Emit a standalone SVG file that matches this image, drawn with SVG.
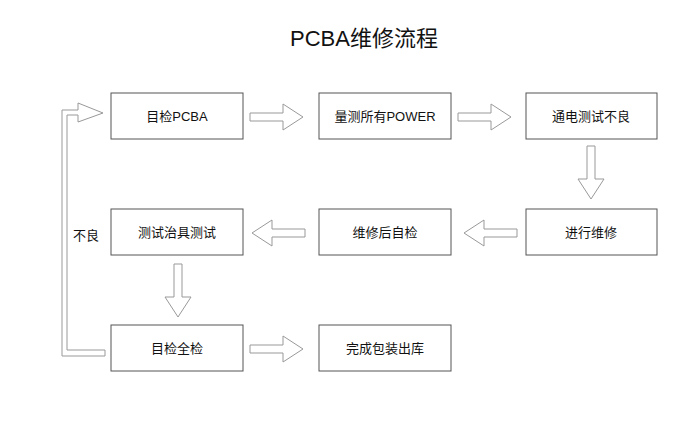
<svg xmlns="http://www.w3.org/2000/svg" width="700" height="430" viewBox="0 0 700 430">
<style>
.b{fill:#fff;stroke:#555;stroke-width:1}
.t{font-family:"Liberation Sans","Noto Sans CJK SC",sans-serif;font-size:13px;fill:#111;text-anchor:middle}
.a{fill:#fff;stroke:#999;stroke-width:1}
</style>
<rect width="700" height="430" fill="#fff"/>
<text x="364" y="46" class="t" style="font-size:22px">PCBA维修流程</text>
<g id="n1"><rect class="b" x="111" y="93" width="132" height="46"/><text class="t" x="177" y="121">目检PCBA</text></g>
<g id="n2"><rect class="b" x="319" y="93" width="132" height="46"/><text class="t" x="385" y="121">量测所有POWER</text></g>
<g id="n3"><rect class="b" x="526" y="93" width="131" height="46"/><text class="t" x="591" y="121">通电测试不良</text></g>
<g id="n4"><rect class="b" x="526" y="209" width="131" height="46"/><text class="t" x="591" y="237">进行维修</text></g>
<g id="n5"><rect class="b" x="319" y="209" width="132" height="46"/><text class="t" x="385" y="237">维修后自检</text></g>
<g id="n6"><rect class="b" x="111" y="209" width="132" height="46"/><text class="t" x="177" y="237">测试治具测试</text></g>
<g id="n7"><rect class="b" x="111" y="325" width="132" height="46"/><text class="t" x="177" y="353">目检全检</text></g>
<g id="n8"><rect class="b" x="319" y="325" width="132" height="46"/><text class="t" x="385" y="353">完成包装出库</text></g>
<g id="connectors">
<path class="a" d="M250,113h33v-9l20,13l-20,13v-9h-33z"/>
<path class="a" d="M458,113h33v-9l20,13l-20,13v-9h-33z"/>
<path class="a" d="M250,345h33v-9l20,13l-20,13v-9h-33z"/>
<path class="a" d="M305,229h-33v-9l-20,13l20,13v-9h33z"/>
<path class="a" d="M517,229h-33v-9l-20,13l20,13v-9h33z"/>
<path class="a" d="M587,146v33h-9l13,20l13,-20h-9v-33z"/>
<path class="a" d="M174,264v33h-9l13,20l13,-20h-9v-33z"/>
<path class="a" d="M105,356H62V110h16v-7l25,10l-25,9v-7H67v235h38z"/>
<text class="t" x="86" y="240">不良</text>
</g>
</svg>
